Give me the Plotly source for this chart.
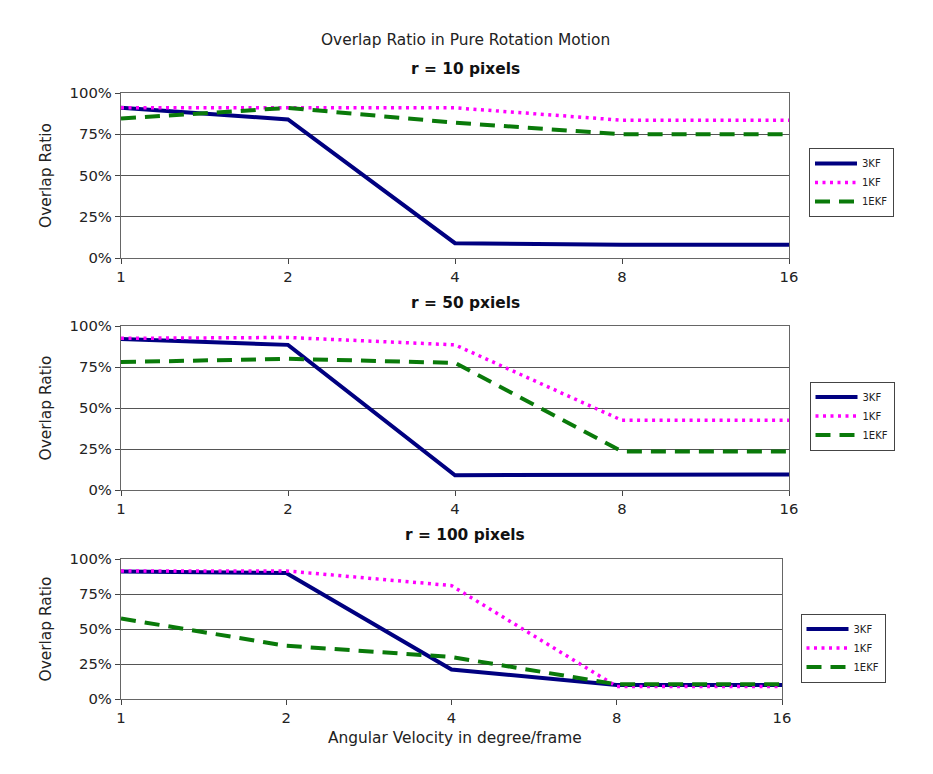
import plotly.graph_objects as go
import math

# ---- data ----
velocity = [1, 2, 4, 8, 16]
series_names = ["3KF", "1KF", "1EKF"]
panel_titles = ["r = 10 pixels", "r = 50 pxiels", "r = 100 pixels"]

r10_3kf = [0.91, 0.84, 0.09, 0.08, 0.08]
r10_1kf = [0.91, 0.91, 0.91, 0.835, 0.835]
r10_1ekf = [0.845, 0.91, 0.82, 0.75, 0.75]

r50_3kf = [0.92, 0.885, 0.09, 0.095, 0.095]
r50_1kf = [0.925, 0.93, 0.885, 0.425, 0.425]
r50_1ekf = [0.78, 0.80, 0.775, 0.235, 0.235]

r100_3kf = [0.91, 0.90, 0.21, 0.10, 0.10]
r100_1kf = [0.915, 0.915, 0.81, 0.09, 0.09]
r100_1ekf = [0.575, 0.38, 0.30, 0.105, 0.105]

y_tickvals = [0, 0.25, 0.5, 0.75, 1.0]
y_ticktext = ["0%", "25%", "50%", "75%", "100%"]
x_tickvals = [1, 2, 4, 8, 16]
x_ticktext = ["1", "2", "4", "8", "16"]

panels = [
    [r10_3kf, r10_1kf, r10_1ekf],
    [r50_3kf, r50_1kf, r50_1ekf],
    [r100_3kf, r100_1kf, r100_1ekf],
]

# ---- styling ----
W, H = 933, 774
FONT = "DejaVu Sans"
TXT = "#222"
styles = [
    dict(color="#000080", width=4, dash="solid"),
    dict(color="#ff00ff", width=3.5, dash="3px,4.5px"),
    dict(color="#0a7a0a", width=4, dash="15px,9px"),
]
# plot area pixel boxes: (left, right, top, bottom)
boxes = [(121, 789, 93, 258), (121, 789, 326, 490), (121, 782, 559, 699)]
legend_center = [(851.5, 182.5), (852, 416), (843, 648)]
title_y = [69, 303, 535]

fig = go.Figure()
for p, data in enumerate(panels):
    sfx = "" if p == 0 else str(p + 1)
    for s, vals in enumerate(data):
        fig.add_trace(go.Scatter(
            x=velocity, y=vals, mode="lines", name=series_names[s],
            line=dict(color=styles[s]["color"], width=styles[s]["width"], dash=styles[s]["dash"]),
            xaxis="x" + sfx, yaxis="y" + sfx,
            legend="legend" + sfx,
        ))

layout = dict(
    template="none",
    width=W, height=H, autosize=False,
    margin=dict(l=0, r=0, t=0, b=0, pad=0, autoexpand=False),
    paper_bgcolor="white", plot_bgcolor="white",
    font=dict(family=FONT, color=TXT, size=15),
)

for p, (l, r, t, b) in enumerate(boxes):
    sfx = "" if p == 0 else str(p + 1)
    layout["xaxis" + sfx] = dict(
        domain=[l / W, r / W], anchor="y" + sfx, type="log", automargin=False,
        range=[0, math.log10(16)], tickvals=x_tickvals, ticktext=x_ticktext,
        showgrid=False, zeroline=False,
        showline=True, linecolor="#666", linewidth=1.3, mirror=True,
        ticks="outside", ticklen=5, tickcolor="#444",
        tickfont=dict(size=14.8, family=FONT, color=TXT),
    )
    layout["yaxis" + sfx] = dict(
        domain=[1 - b / H, 1 - t / H], anchor="x" + sfx, automargin=False,
        range=[0, 1], tickvals=y_tickvals, ticktext=y_ticktext,
        showgrid=True, gridcolor="#555", gridwidth=1, zeroline=False,
        showline=True, linecolor="#666", linewidth=1.3, mirror=True,
        ticks="outside", ticklen=5, tickcolor="#444",
        tickfont=dict(size=14.8, family=FONT, color=TXT),
        title=dict(text="Overlap Ratio", font=dict(size=15.4, family=FONT, color=TXT), standoff=14),
    )
    cx, cy = legend_center[p]
    layout["legend" + sfx] = dict(
        x=cx / W, y=1 - cy / H, xanchor="center", yanchor="middle",
        bordercolor="#444", borderwidth=1, bgcolor="white",
        font=dict(size=10, family=FONT, color=TXT),
        tracegroupgap=0, itemwidth=42,
    )

annotations = [
    dict(text="Overlap Ratio in Pure Rotation Motion", x=465 / W, y=1 - 40 / H,
         xref="paper", yref="paper", showarrow=False, xanchor="center", yanchor="middle",
         font=dict(size=15.4, family=FONT, color=TXT)),
    dict(text="Angular Velocity in degree/frame", x=455 / W, y=1 - 738 / H,
         xref="paper", yref="paper", showarrow=False, xanchor="center", yanchor="middle",
         font=dict(size=15.4, family=FONT, color=TXT)),
]
for p, txt in enumerate(panel_titles):
    annotations.append(dict(
        text="<b>" + txt + "</b>", x=465 / W, y=1 - title_y[p] / H,
        xref="paper", yref="paper", showarrow=False, xanchor="center", yanchor="middle",
        font=dict(size=15.4, family=FONT, color="#111")))
layout["annotations"] = annotations

fig.update_layout(**layout)
fig.write_html(
    "out.html",
    post_script="document.body.style.margin='0';document.body.style.padding='0';document.body.style.overflow='hidden';",
)
